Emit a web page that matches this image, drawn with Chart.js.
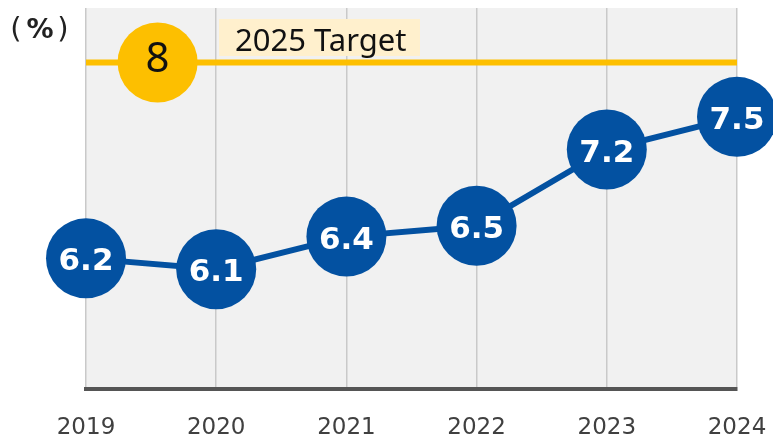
<!DOCTYPE html>
<html>
<head>
<meta charset="utf-8">
<script src="https://cdn.jsdelivr.net/npm/chart.js@4/dist/chart.umd.min.js"></script>
<style>
  html, body { margin: 0; padding: 0; background: #ffffff; }
  #wrap { width: 773px; height: 439px; }
</style>
</head>
<body>
<div id="wrap"><canvas id="c" width="773" height="439"></canvas></div>
<script>
// Ratio by year, in percent
const years = [2019, 2020, 2021, 2022, 2023, 2024];
const rates = [6.2, 6.1, 6.4, 6.5, 7.2, 7.5];

// 2025 target
const targetValue = 8;
const targetLabel = '2025 Target';
const targetMarkerYear = 2019.55;

const unitParts = ['(', '%', ')'];

const BLUE = '#0351a1';
const ORANGE = '#fdbf00';

// Plot background, target caption, unit label and value labels
const decor = {
  id: 'decor',
  beforeDraw(chart) {
    const { ctx, chartArea: a } = chart;
    ctx.save();
    ctx.fillStyle = '#f1f1f1';
    ctx.fillRect(a.left, a.top, a.right - a.left, a.bottom - a.top);
    ctx.restore();
  },
  afterDatasetsDraw(chart) {
    const { ctx } = chart;
    ctx.save();

    // caption box for the target line
    ctx.fillStyle = '#fff0cd';
    ctx.fillRect(219, 19, 201, 37);
    ctx.fillStyle = '#111111';
    ctx.font = '31px "Noto Sans"';
    ctx.textAlign = 'left';
    ctx.textBaseline = 'alphabetic';
    ctx.fillText(targetLabel, 235, 51);

    // value inside the target marker
    const tm = chart.getDatasetMeta(2).data[0];
    ctx.textAlign = 'center';
    ctx.font = '42px "Noto Sans"';
    ctx.fillStyle = '#111111';
    ctx.fillText(String(targetValue), tm.x, tm.y + 10);

    // values inside the blue markers
    const meta = chart.getDatasetMeta(0);
    ctx.font = 'bold 31px "DejaVu Sans"';
    ctx.fillStyle = '#ffffff';
    meta.data.forEach((pt, i) => {
      ctx.fillText(rates[i].toFixed(1), pt.x, pt.y + 12);
    });

    // unit label
    ctx.fillStyle = '#222222';
    ctx.textAlign = 'center';
    ctx.font = '29px "DejaVu Sans"';
    ctx.fillText(unitParts[0], 16, 38);
    ctx.fillText(unitParts[2], 63, 38);
    ctx.font = 'bold 27px "DejaVu Sans"';
    ctx.fillText(unitParts[1], 40, 38);
    ctx.restore();
  }
};

new Chart(document.getElementById('c'), {
  type: 'line',
  data: {
    datasets: [
      {
        label: 'rate',
        data: years.map((y, i) => ({ x: y, y: rates[i] })),
        borderColor: BLUE,
        borderWidth: 6,
        pointRadius: 40,
        pointHoverRadius: 40,
        pointBackgroundColor: BLUE,
        pointBorderWidth: 0,
        clip: false,
        order: 1
      },
      {
        label: 'target',
        data: [{ x: years[0], y: targetValue }, { x: years[years.length - 1], y: targetValue }],
        borderColor: ORANGE,
        borderWidth: 6,
        pointRadius: 0,
        clip: false,
        order: 3
      },
      {
        label: 'target marker',
        data: [{ x: targetMarkerYear, y: targetValue }],
        showLine: false,
        pointRadius: 40,
        pointHoverRadius: 40,
        pointBackgroundColor: ORANGE,
        pointBorderWidth: 0,
        clip: false,
        order: 2
      }
    ]
  },
  options: {
    responsive: false,
    animation: false,
    events: [],
    layout: { autoPadding: false, padding: { left: 86, right: 36, top: 8, bottom: 0 } },
    plugins: { legend: { display: false }, tooltip: { enabled: false } },
    scales: {
      x: {
        type: 'linear',
        min: years[0],
        max: years[years.length - 1],
        afterFit(scale) {
          scale.height = 50;
          scale.paddingLeft = 0;
          scale.paddingRight = 0;
        },
        grid: { color: '#c9c9c9', lineWidth: 1.5, drawTicks: false },
        border: { color: '#555555', width: 4 },
        ticks: {
          stepSize: 1,
          padding: 28,
          color: '#404040',
          font: { family: '"DejaVu Sans"', size: 23, lineHeight: 1 },
          callback: (v) => (years.includes(v) ? String(years[years.indexOf(v)]) : '')
        }
      },
      y: {
        display: false,
        min: 5,
        max: 8.5
      }
    }
  },
  plugins: [decor]
});
</script>
</body>
</html>
